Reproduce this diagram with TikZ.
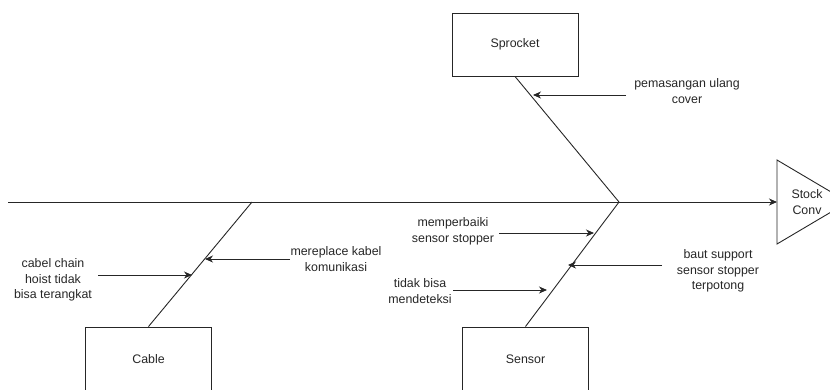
\documentclass[tikz,border=0pt]{standalone}
\usepackage{fontspec}
\setmainfont{Liberation Sans}
\usetikzlibrary{arrows.meta}
\begin{document}
\begin{tikzpicture}[x=1pt,y=-1pt,
  line/.style={draw=black!85, line width=0.9pt},
  arr/.style={line, -{Stealth[length=8pt,width=7pt,inset=2.5pt]}},
  box/.style={line, rectangle, minimum width=126pt, minimum height=63pt, inner sep=0pt},
  lbl/.style={align=center, inner sep=0pt, font=\fontsize{12.4}{15.6}\selectfont, text=black!85}]
\useasboundingbox (0,0) rectangle (830,389);
\clip (0,0) rectangle (830,389);
% head triangle
\draw[line] (777,160) -- (848,202) -- (777,244) -- cycle;
\coordinate (head) at (777,202);
\node[lbl] (stock) at (807,202) {Stock\\Conv};
% spine
\coordinate (tail) at (8,202);
\coordinate (j1) at (619,202);
\coordinate (j2) at (252,202);
\draw[arr] (tail) -- (head);
% boxes
\node[box, lbl] (sprocket) at (515,44.5) {Sprocket};
\node[box, lbl, minimum height=80pt, text depth=0pt] (sensor) at (525.5,367) {};
\node[lbl] at (525.5,359) {Sensor};
\node[box, lbl, minimum height=80pt] (cable) at (148.5,367) {};
\node[lbl] at (148.5,359) {Cable};
% bones
\draw[line] (sprocket.south) -- (j1);
\draw[line] (j1) -- (sensor.north);
\draw[line] (j2) -- (cable.north);
% cause points on bones
\coordinate (p1) at (533,95);
\coordinate (p2) at (594,233);
\coordinate (p3) at (568,265);
\coordinate (p4) at (547,290);
\coordinate (p5) at (205,259);
\coordinate (p6) at (192,275);
% free ends
\coordinate (s1) at (626,95);
\coordinate (s2) at (499,233);
\coordinate (s3) at (662,265);
\coordinate (s4) at (453,290);
\coordinate (s5) at (290,259);
\coordinate (s6) at (98,275);
\draw[arr] (s1) -- (p1);
\draw[arr] (s2) -- (p2);
\draw[arr] (s3) -- (p3);
\draw[arr] (s4) -- (p4);
\draw[arr] (s5) -- (p5);
\draw[arr] (s6) -- (p6);
% labels
\node[lbl] (t1) at (687,91) {pemasangan ulang\\cover};
\node[lbl] (t2) at (453,231) {memperbaiki\\sensor stopper};
\node[lbl] (t3) at (718,271) {baut support\\sensor stopper\\terpotong};
\node[lbl] (t4) at (420,291) {tidak bisa\\mendeteksi};
\node[lbl] (t5) at (336,259) {mereplace kabel\\komunikasi};
\node[lbl] (t6) at (53,280) {cabel chain\\hoist tidak\\bisa terangkat};
\end{tikzpicture}
\end{document}
